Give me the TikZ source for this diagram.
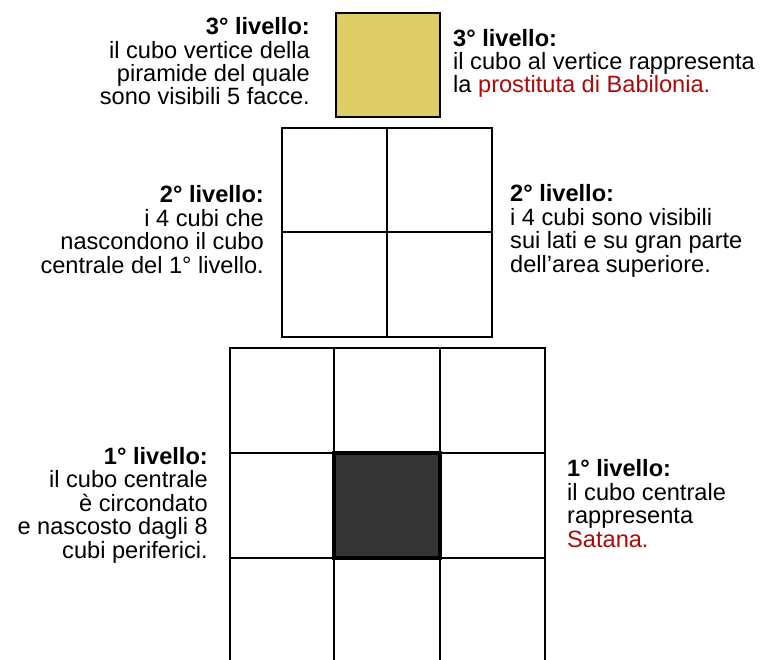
\documentclass[tikz,border=0pt]{standalone}
\usepackage{fontspec}
\setmainfont{Liberation Sans}
\definecolor{rossoT}{RGB}{172,10,10}
\definecolor{giallo}{RGB}{222,205,100}
\definecolor{scuro}{RGB}{52,52,52}
\begin{document}
\begin{tikzpicture}[x=1pt,y=-1pt,
  txt/.style={inner sep=0pt,font=\fontsize{23.6}{23.4}\selectfont},
  txtL/.style={txt,align=right,anchor=base east},
  txtR/.style={txt,align=left,anchor=base west},
  gridline/.style={line width=2.8pt,line cap=rect}]
\useasboundingbox (0,0) rectangle (762,660);
\begin{scope}
\clip (0,0) rectangle (762,660);
% 3rd level
\draw[gridline,fill=giallo] (336,13) rectangle (440,117);
% 2nd level
\draw[gridline] (282,128) rectangle (492,337);
\draw[gridline] (387,128) -- (387,337);
\draw[gridline] (282,232) -- (492,232);
% 1st level
\draw[line width=2.8pt,fill=scuro] (334,453) rectangle (440,558);
\draw[line width=4pt] (334,453) rectangle (440,558);
\draw[gridline] (230,680) -- (230,348) -- (545,348) -- (545,680);
\draw[gridline] (334,348) -- (334,680);
\draw[gridline] (440,348) -- (440,680);
\draw[gridline] (230,453) -- (545,453);
\draw[gridline] (230,558) -- (545,558);
\end{scope}
% texts (anchored at the baseline of the last line)
\node[txtL] (t3l) at (310,105) {\textbf{3° livello:}\\il cubo vertice della\\piramide del quale\\sono visibili 5 facce.};
\node[txtR] (t3r) at (453,93) {\textbf{3° livello:}\\il cubo al vertice rappresenta\\la \textcolor{rossoT}{prostituta di Babilonia.}};
\node[txtL] (t2l) at (264,273) {\textbf{2° livello:}\\i 4 cubi che\\nascondono il cubo\\centrale del 1° livello.};
\node[txtR] (t2r) at (510,272) {\textbf{2° livello:}\\i 4 cubi sono visibili\\sui lati e su gran parte\\dell’area superiore.};
\node[txtL] (t1l) at (208,558) {\textbf{1° livello:}\\il cubo centrale\\è circondato\\e nascosto dagli 8\\cubi periferici.};
\node[txtR] (t1r) at (567,547) {\textbf{1° livello:}\\il cubo centrale\\rappresenta\\\textcolor{rossoT}{Satana.}};
\end{tikzpicture}
\end{document}
